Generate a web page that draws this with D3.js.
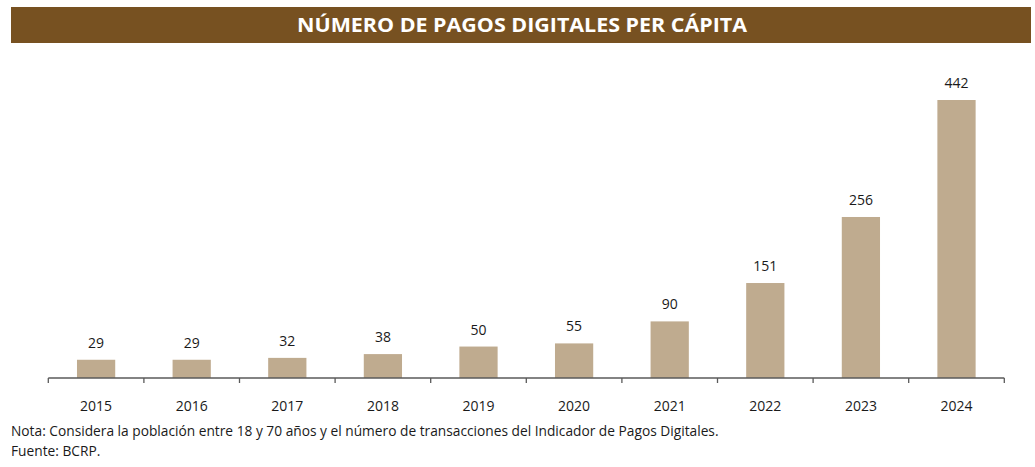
<!DOCTYPE html>
<html>
<head>
<meta charset="utf-8">
<script src="https://cdn.jsdelivr.net/npm/d3@7"></script>
<style>
  html, body { margin: 0; padding: 0; background: #ffffff; }
  svg { display: block; }
</style>
</head>
<body>
<svg id="chart" width="1035" height="467"></svg>
<script>
const title = "NÚMERO DE PAGOS DIGITALES PER CÁPITA";
const years = ["2015","2016","2017","2018","2019","2020","2021","2022","2023","2024"];
const values = [29, 29, 32, 38, 50, 55, 90, 151, 256, 442];
const notes = [
  "Nota: Considera la población entre 18 y 70 años y el número de transacciones del Indicador de Pagos Digitales.",
  "Fuente: BCRP."
];

const svg = d3.select("#chart");
const font = "'Open Sans', 'Noto Sans', sans-serif";

// Title bar
svg.append("rect")
  .attr("x", 11).attr("y", 7)
  .attr("width", 1020).attr("height", 36)
  .attr("fill", "#775121");
svg.append("text")
  .attr("x", 522).attr("y", 32)
  .attr("text-anchor", "middle")
  .attr("font-family", font)
  .attr("font-weight", "bold")
  .attr("font-size", 20)
  .attr("fill", "#ffffff")
  .attr("textLength", 450)
  .attr("lengthAdjust", "spacingAndGlyphs")
  .text(title);

// Scales
const x = d3.scaleBand().domain(years).range([48.3, 1004.3]).padding(0);
const y = d3.scaleLinear().domain([0, 442]).range([378, 100]);
const barW = x.bandwidth() * 0.4;

// Bars
svg.append("g").selectAll("rect")
  .data(years.map((yr, i) => ({ yr, v: values[i] })))
  .join("rect")
  .attr("x", d => x(d.yr) + x.bandwidth() / 2 - barW / 2)
  .attr("y", d => y(d.v))
  .attr("width", barW)
  .attr("height", d => y(0) - y(d.v))
  .attr("fill", "#bfab8f");

// Value labels
svg.append("g").selectAll("text")
  .data(years.map((yr, i) => ({ yr, v: values[i] })))
  .join("text")
  .attr("x", d => x(d.yr) + x.bandwidth() / 2)
  .attr("y", d => y(d.v) - 12)
  .attr("text-anchor", "middle")
  .attr("font-family", font)
  .attr("font-size", 14)
  .attr("fill", "#1a1a1a")
  .text(d => d.v);

// X axis
const axis = d3.axisBottom(x).tickSize(0).tickPadding(0).tickFormat(d => d);
const gx = svg.append("g").attr("transform", `translate(0,${y(0)})`).call(axis);
gx.select(".domain").remove();
gx.selectAll(".tick text").remove();
gx.selectAll(".tick line").remove();
gx.append("line")
  .attr("x1", x.range()[0]).attr("x2", x.range()[1])
  .attr("y1", 0).attr("y2", 0)
  .attr("stroke", "#5a5a5a").attr("stroke-width", 1.5);
// tick marks at band boundaries
const boundaries = years.map(d => x(d)).concat([x.range()[1]]);
gx.selectAll(".bt").data(boundaries).join("line")
  .attr("class", "bt")
  .attr("x1", d => d).attr("x2", d => d)
  .attr("y1", 0).attr("y2", 5)
  .attr("stroke", "#5a5a5a").attr("stroke-width", 1.3);
gx.selectAll(".lab").data(years).join("text")
  .attr("class", "lab")
  .attr("x", d => x(d) + x.bandwidth() / 2)
  .attr("y", 33)
  .attr("text-anchor", "middle")
  .attr("font-family", font)
  .attr("font-size", 14)
  .attr("fill", "#1a1a1a")
  .text(d => d);

// Notes
const noteG = svg.append("g");
const n1 = noteG.append("text")
  .attr("x", 11).attr("y", 436)
  .attr("font-family", font).attr("font-size", 14).attr("fill", "#1a1a1a")
  .text(notes[0]);
const targetW = 708;
const w = n1.node().getComputedTextLength();
const fs = 14 * targetW / w;
n1.attr("font-size", fs);
noteG.append("text")
  .attr("x", 11).attr("y", 456)
  .attr("font-family", font).attr("font-size", fs).attr("fill", "#1a1a1a")
  .text(notes[1]);
</script>
</body>
</html>
